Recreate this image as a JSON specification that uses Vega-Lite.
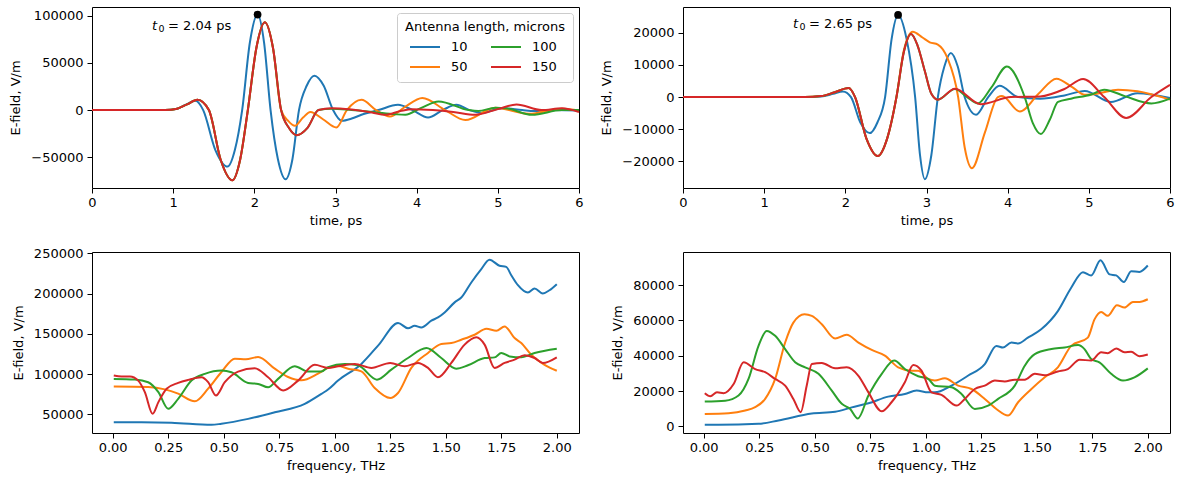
{
  "$schema": "https://vega.github.io/schema/vega-lite/v6.json",
  "padding": {"left": 9, "top": 6, "right": 4, "bottom": 4},
  "config": {
    "font": "DejaVu Sans",
    "view": {"stroke": "black", "strokeWidth": 1},
    "axis": {"domain": false, "grid": false, "tickColor": "black", "tickSize": 5, "tickWidth": 1, "labelColor": "black", "labelFontSize": 13, "labelFont": "DejaVu Sans", "titleFont": "DejaVu Sans", "titleFontSize": 13, "titleFontWeight": "normal", "titleColor": "black", "labelPadding": 3, "titlePadding": 5, "labelFlush": false},
    "axisY": {"labelPadding": 4, "titlePadding": 8},
    "text": {"font": "DejaVu Sans"},
    "legend": {"labelFont": "DejaVu Sans", "titleFont": "DejaVu Sans"}
  },
  "datasets": {
    "tl": [
      {"L":"10","time":0,"E":0},{"L":"10","time":0.9,"E":0},{"L":"10","time":1.05,"E":1500},{"L":"10","time":1.15,"E":5500},{"L":"10","time":1.275,"E":9900},{"L":"10","time":1.37,"E":0},{"L":"10","time":1.52,"E":-42400},{"L":"10","time":1.67,"E":-60000},{"L":"10","time":1.76,"E":-42400},{"L":"10","time":1.85,"E":0},{"L":"10","time":1.945,"E":71700},{"L":"10","time":2.04,"E":101400},{"L":"10","time":2.12,"E":71700},{"L":"10","time":2.2,"E":0},{"L":"10","time":2.29,"E":-51900},{"L":"10","time":2.385,"E":-73400},{"L":"10","time":2.47,"E":-51900},{"L":"10","time":2.55,"E":0},{"L":"10","time":2.645,"E":25800},{"L":"10","time":2.74,"E":36500},{"L":"10","time":2.855,"E":25800},{"L":"10","time":2.97,"E":0},{"L":"10","time":3.075,"E":-11400},{"L":"10","time":3.2,"E":-9000},{"L":"10","time":3.32,"E":-5000},{"L":"10","time":3.53,"E":0},{"L":"10","time":3.77,"E":5600},{"L":"10","time":3.95,"E":0},{"L":"10","time":4.14,"E":-7800},{"L":"10","time":4.32,"E":0},{"L":"10","time":4.49,"E":5600},{"L":"10","time":4.65,"E":0},{"L":"10","time":4.8,"E":-3000},{"L":"10","time":5.05,"E":2000},{"L":"10","time":5.3,"E":0},{"L":"10","time":5.45,"E":-1000},{"L":"10","time":5.7,"E":200},{"L":"10","time":6.0,"E":-500},
      {"L":"50","time":0,"E":0},{"L":"50","time":0.9,"E":0},{"L":"50","time":1.05,"E":1500},{"L":"50","time":1.17,"E":6000},{"L":"50","time":1.3,"E":10900},{"L":"50","time":1.44,"E":0},{"L":"50","time":1.585,"E":-52700},{"L":"50","time":1.73,"E":-74500},{"L":"50","time":1.825,"E":-52700},{"L":"50","time":1.92,"E":0},{"L":"50","time":2.025,"E":65900},{"L":"50","time":2.13,"E":93200},{"L":"50","time":2.23,"E":65900},{"L":"50","time":2.33,"E":0},{"L":"50","time":2.42,"E":-11800},{"L":"50","time":2.5,"E":-16700},{"L":"50","time":2.6,"E":-8000},{"L":"50","time":2.69,"E":-2000},{"L":"50","time":2.85,"E":-10000},{"L":"50","time":3.01,"E":-18500},{"L":"50","time":3.14,"E":0},{"L":"50","time":3.32,"E":11000},{"L":"50","time":3.5,"E":0},{"L":"50","time":3.67,"E":-6800},{"L":"50","time":3.85,"E":3000},{"L":"50","time":4.07,"E":12800},{"L":"50","time":4.35,"E":0},{"L":"50","time":4.6,"E":-10600},{"L":"50","time":4.97,"E":2500},{"L":"50","time":5.38,"E":-4000},{"L":"50","time":5.79,"E":1500},{"L":"50","time":6.0,"E":-500},
      {"L":"100","time":0,"E":0},{"L":"100","time":0.9,"E":0},{"L":"100","time":1.05,"E":1500},{"L":"100","time":1.17,"E":6000},{"L":"100","time":1.3,"E":10900},{"L":"100","time":1.44,"E":0},{"L":"100","time":1.585,"E":-52700},{"L":"100","time":1.73,"E":-74500},{"L":"100","time":1.825,"E":-52700},{"L":"100","time":1.92,"E":0},{"L":"100","time":2.025,"E":65900},{"L":"100","time":2.13,"E":93200},{"L":"100","time":2.23,"E":65900},{"L":"100","time":2.33,"E":0},{"L":"100","time":2.425,"E":-18800},{"L":"100","time":2.52,"E":-26600},{"L":"100","time":2.655,"E":-18800},{"L":"100","time":2.79,"E":0},{"L":"100","time":2.95,"E":1500},{"L":"100","time":3.2,"E":0},{"L":"100","time":3.5,"E":-2500},{"L":"100","time":3.73,"E":-4400},{"L":"100","time":3.86,"E":-5000},{"L":"100","time":4.05,"E":2000},{"L":"100","time":4.27,"E":9200},{"L":"100","time":4.64,"E":0},{"L":"100","time":4.76,"E":-1000},{"L":"100","time":4.97,"E":2500},{"L":"100","time":5.1,"E":2000},{"L":"100","time":5.42,"E":-5000},{"L":"100","time":5.79,"E":0},{"L":"100","time":6.0,"E":0},
      {"L":"150","time":0,"E":0},{"L":"150","time":0.9,"E":0},{"L":"150","time":1.05,"E":1500},{"L":"150","time":1.17,"E":6000},{"L":"150","time":1.3,"E":10900},{"L":"150","time":1.44,"E":0},{"L":"150","time":1.585,"E":-52700},{"L":"150","time":1.73,"E":-74500},{"L":"150","time":1.825,"E":-52700},{"L":"150","time":1.92,"E":0},{"L":"150","time":2.025,"E":65900},{"L":"150","time":2.13,"E":93200},{"L":"150","time":2.23,"E":65900},{"L":"150","time":2.33,"E":0},{"L":"150","time":2.425,"E":-18800},{"L":"150","time":2.52,"E":-26600},{"L":"150","time":2.655,"E":-18800},{"L":"150","time":2.79,"E":0},{"L":"150","time":2.95,"E":2000},{"L":"150","time":3.2,"E":500},{"L":"150","time":3.45,"E":-2500},{"L":"150","time":3.61,"E":-5000},{"L":"150","time":3.8,"E":-1000},{"L":"150","time":3.94,"E":1000},{"L":"150","time":4.2,"E":0},{"L":"150","time":4.45,"E":-2000},{"L":"150","time":4.72,"E":-5000},{"L":"150","time":5.0,"E":1000},{"L":"150","time":5.23,"E":6000},{"L":"150","time":5.54,"E":0},{"L":"150","time":5.79,"E":2000},{"L":"150","time":6.0,"E":-2000}
    ],
    "tr": [
      {"L":"10","time":0,"E":0},{"L":"10","time":1.5,"E":0},{"L":"10","time":1.7,"E":200},{"L":"10","time":1.85,"E":1000},{"L":"10","time":1.97,"E":1750},{"L":"10","time":2.07,"E":0},{"L":"10","time":2.185,"E":-7900},{"L":"10","time":2.3,"E":-11200},{"L":"10","time":2.395,"E":-7900},{"L":"10","time":2.49,"E":0},{"L":"10","time":2.57,"E":18000},{"L":"10","time":2.65,"E":25500},{"L":"10","time":2.755,"E":18000},{"L":"10","time":2.86,"E":0},{"L":"10","time":2.92,"E":-18000},{"L":"10","time":2.98,"E":-25500},{"L":"10","time":3.06,"E":-18000},{"L":"10","time":3.14,"E":0},{"L":"10","time":3.22,"E":9500},{"L":"10","time":3.3,"E":13700},{"L":"10","time":3.385,"E":9500},{"L":"10","time":3.47,"E":0},{"L":"10","time":3.61,"E":-5500},{"L":"10","time":3.76,"E":0},{"L":"10","time":3.9,"E":3500},{"L":"10","time":4.13,"E":0},{"L":"10","time":4.4,"E":-500},{"L":"10","time":4.7,"E":500},{"L":"10","time":4.95,"E":1900},{"L":"10","time":5.27,"E":-1500},{"L":"10","time":5.6,"E":1200},{"L":"10","time":6.0,"E":-300},
      {"L":"50","time":0,"E":0},{"L":"50","time":1.5,"E":0},{"L":"50","time":1.7,"E":300},{"L":"50","time":1.87,"E":1500},{"L":"50","time":2.04,"E":2800},{"L":"50","time":2.12,"E":0},{"L":"50","time":2.26,"E":-12900},{"L":"50","time":2.4,"E":-18300},{"L":"50","time":2.515,"E":-12900},{"L":"50","time":2.63,"E":0},{"L":"50","time":2.72,"E":14400},{"L":"50","time":2.83,"E":20300},{"L":"50","time":2.95,"E":18500},{"L":"50","time":3.04,"E":17000},{"L":"50","time":3.14,"E":16300},{"L":"50","time":3.26,"E":12000},{"L":"50","time":3.39,"E":0},{"L":"50","time":3.47,"E":-15600},{"L":"50","time":3.56,"E":-22100},{"L":"50","time":3.72,"E":-11000},{"L":"50","time":3.88,"E":0},{"L":"50","time":3.93,"E":300},{"L":"50","time":4.15,"E":-4500},{"L":"50","time":4.38,"E":1000},{"L":"50","time":4.6,"E":5700},{"L":"50","time":4.8,"E":3000},{"L":"50","time":4.95,"E":700},{"L":"50","time":5.1,"E":1000},{"L":"50","time":5.36,"E":2300},{"L":"50","time":5.6,"E":1800},{"L":"50","time":6.0,"E":-800},
      {"L":"100","time":0,"E":0},{"L":"100","time":1.5,"E":0},{"L":"100","time":1.7,"E":300},{"L":"100","time":1.87,"E":1500},{"L":"100","time":2.04,"E":2800},{"L":"100","time":2.12,"E":0},{"L":"100","time":2.26,"E":-12900},{"L":"100","time":2.4,"E":-18300},{"L":"100","time":2.515,"E":-12900},{"L":"100","time":2.63,"E":0},{"L":"100","time":2.72,"E":13900},{"L":"100","time":2.81,"E":19600},{"L":"100","time":2.89,"E":16000},{"L":"100","time":2.98,"E":8000},{"L":"100","time":3.06,"E":1000},{"L":"100","time":3.14,"E":-800},{"L":"100","time":3.35,"E":2500},{"L":"100","time":3.5,"E":0},{"L":"100","time":3.63,"E":-2000},{"L":"100","time":3.8,"E":3000},{"L":"100","time":3.99,"E":9500},{"L":"100","time":4.21,"E":0},{"L":"100","time":4.31,"E":-8100},{"L":"100","time":4.41,"E":-11500},{"L":"100","time":4.52,"E":-7000},{"L":"100","time":4.62,"E":-1500},{"L":"100","time":4.78,"E":-500},{"L":"100","time":5.03,"E":800},{"L":"100","time":5.19,"E":2300},{"L":"100","time":5.45,"E":200},{"L":"100","time":5.77,"E":-2000},{"L":"100","time":6.0,"E":-500},
      {"L":"150","time":0,"E":0},{"L":"150","time":1.5,"E":0},{"L":"150","time":1.7,"E":300},{"L":"150","time":1.87,"E":1500},{"L":"150","time":2.04,"E":2800},{"L":"150","time":2.12,"E":0},{"L":"150","time":2.26,"E":-12900},{"L":"150","time":2.4,"E":-18300},{"L":"150","time":2.515,"E":-12900},{"L":"150","time":2.63,"E":0},{"L":"150","time":2.72,"E":13900},{"L":"150","time":2.81,"E":19600},{"L":"150","time":2.89,"E":16000},{"L":"150","time":2.98,"E":8000},{"L":"150","time":3.06,"E":1000},{"L":"150","time":3.14,"E":-800},{"L":"150","time":3.35,"E":2600},{"L":"150","time":3.67,"E":-2200},{"L":"150","time":4.04,"E":0},{"L":"150","time":4.4,"E":200},{"L":"150","time":4.7,"E":2500},{"L":"150","time":4.93,"E":5600},{"L":"150","time":5.19,"E":0},{"L":"150","time":5.46,"E":-6500},{"L":"150","time":5.77,"E":0},{"L":"150","time":6.0,"E":3800}
    ],
    "bl": [
      {"L":"10","freq":0.005,"E":40300},{"L":"10","freq":0.13,"E":40300},{"L":"10","freq":0.265,"E":39800},{"L":"10","freq":0.445,"E":37100},{"L":"10","freq":0.49,"E":38500},{"L":"10","freq":0.61,"E":44500},{"L":"10","freq":0.73,"E":52700},{"L":"10","freq":0.865,"E":63100},{"L":"10","freq":0.94,"E":75500},{"L":"10","freq":0.97,"E":80900},{"L":"10","freq":1.015,"E":92000},{"L":"10","freq":1.12,"E":112700},{"L":"10","freq":1.2,"E":137000},{"L":"10","freq":1.285,"E":163500},{"L":"10","freq":1.33,"E":156800},{"L":"10","freq":1.36,"E":160000},{"L":"10","freq":1.39,"E":158000},{"L":"10","freq":1.435,"E":166300},{"L":"10","freq":1.465,"E":170400},{"L":"10","freq":1.495,"E":176600},{"L":"10","freq":1.54,"E":189000},{"L":"10","freq":1.57,"E":195000},{"L":"10","freq":1.615,"E":213700},{"L":"10","freq":1.66,"E":230300},{"L":"10","freq":1.697,"E":241900},{"L":"10","freq":1.742,"E":234400},{"L":"10","freq":1.772,"E":233000},{"L":"10","freq":1.795,"E":222700},{"L":"10","freq":1.825,"E":210300},{"L":"10","freq":1.87,"E":201200},{"L":"10","freq":1.9,"E":206200},{"L":"10","freq":1.937,"E":200000},{"L":"10","freq":1.967,"E":204100},{"L":"10","freq":2.0,"E":211600},
      {"L":"50","freq":0.005,"E":84600},{"L":"50","freq":0.16,"E":84000},{"L":"50","freq":0.235,"E":81100},{"L":"50","freq":0.295,"E":75800},{"L":"50","freq":0.37,"E":66300},{"L":"50","freq":0.43,"E":82000},{"L":"50","freq":0.49,"E":102700},{"L":"50","freq":0.55,"E":119200},{"L":"50","freq":0.6,"E":118400},{"L":"50","freq":0.655,"E":121300},{"L":"50","freq":0.73,"E":106800},{"L":"50","freq":0.79,"E":96500},{"L":"50","freq":0.85,"E":92400},{"L":"50","freq":0.925,"E":100700},{"L":"50","freq":0.97,"E":107700},{"L":"50","freq":1.015,"E":110000},{"L":"50","freq":1.06,"E":106800},{"L":"50","freq":1.12,"E":103500},{"L":"50","freq":1.18,"E":82800},{"L":"50","freq":1.25,"E":70400},{"L":"50","freq":1.285,"E":76600},{"L":"50","freq":1.345,"E":107700},{"L":"50","freq":1.42,"E":126300},{"L":"50","freq":1.48,"E":137400},{"L":"50","freq":1.525,"E":138500},{"L":"50","freq":1.57,"E":142700},{"L":"50","freq":1.63,"E":148900},{"L":"50","freq":1.683,"E":156300},{"L":"50","freq":1.728,"E":153800},{"L":"50","freq":1.765,"E":159200},{"L":"50","freq":1.81,"E":144700},{"L":"50","freq":1.84,"E":138500},{"L":"50","freq":1.885,"E":124000},{"L":"50","freq":1.945,"E":111600},{"L":"50","freq":2.0,"E":104200},
      {"L":"100","freq":0.005,"E":94100},{"L":"100","freq":0.1,"E":93300},{"L":"100","freq":0.16,"E":90000},{"L":"100","freq":0.206,"E":77700},{"L":"100","freq":0.25,"E":57000},{"L":"100","freq":0.295,"E":69400},{"L":"100","freq":0.355,"E":92000},{"L":"100","freq":0.415,"E":100300},{"L":"100","freq":0.49,"E":104400},{"L":"100","freq":0.535,"E":102300},{"L":"100","freq":0.61,"E":89100},{"L":"100","freq":0.655,"E":87900},{"L":"100","freq":0.7,"E":83700},{"L":"100","freq":0.745,"E":94100},{"L":"100","freq":0.82,"E":109800},{"L":"100","freq":0.88,"E":103200},{"L":"100","freq":0.94,"E":103200},{"L":"100","freq":0.97,"E":108600},{"L":"100","freq":1.045,"E":112700},{"L":"100","freq":1.105,"E":111000},{"L":"100","freq":1.19,"E":93200},{"L":"100","freq":1.255,"E":105600},{"L":"100","freq":1.33,"E":120000},{"L":"100","freq":1.413,"E":132400},{"L":"100","freq":1.48,"E":120000},{"L":"100","freq":1.547,"E":106800},{"L":"100","freq":1.6,"E":111000},{"L":"100","freq":1.675,"E":120000},{"L":"100","freq":1.72,"E":120800},{"L":"100","freq":1.75,"E":126200},{"L":"100","freq":1.788,"E":122000},{"L":"100","freq":1.84,"E":120900},{"L":"100","freq":1.9,"E":126200},{"L":"100","freq":2.0,"E":131500},
      {"L":"150","freq":0.005,"E":98200},{"L":"150","freq":0.04,"E":97000},{"L":"150","freq":0.078,"E":97000},{"L":"150","freq":0.115,"E":92000},{"L":"150","freq":0.145,"E":77700},{"L":"150","freq":0.18,"E":50800},{"L":"150","freq":0.206,"E":65300},{"L":"150","freq":0.243,"E":81800},{"L":"150","freq":0.295,"E":89100},{"L":"150","freq":0.34,"E":92900},{"L":"150","freq":0.4,"E":96200},{"L":"150","freq":0.43,"E":90000},{"L":"150","freq":0.465,"E":73500},{"L":"150","freq":0.505,"E":90000},{"L":"150","freq":0.565,"E":103200},{"L":"150","freq":0.64,"E":107300},{"L":"150","freq":0.7,"E":96200},{"L":"150","freq":0.768,"E":79800},{"L":"150","freq":0.835,"E":92000},{"L":"150","freq":0.91,"E":111500},{"L":"150","freq":0.97,"E":107700},{"L":"150","freq":1.015,"E":109800},{"L":"150","freq":1.09,"E":112700},{"L":"150","freq":1.165,"E":107700},{"L":"150","freq":1.25,"E":113900},{"L":"150","freq":1.315,"E":109800},{"L":"150","freq":1.375,"E":113900},{"L":"150","freq":1.42,"E":107700},{"L":"150","freq":1.465,"E":96100},{"L":"150","freq":1.525,"E":113900},{"L":"150","freq":1.585,"E":136600},{"L":"150","freq":1.638,"E":145700},{"L":"150","freq":1.675,"E":136600},{"L":"150","freq":1.72,"E":107700},{"L":"150","freq":1.765,"E":113900},{"L":"150","freq":1.81,"E":118000},{"L":"150","freq":1.855,"E":123400},{"L":"150","freq":1.9,"E":120000},{"L":"150","freq":1.937,"E":113900},{"L":"150","freq":2.0,"E":120900}
    ],
    "br": [
      {"L":"10","freq":0.005,"E":960},{"L":"10","freq":0.067,"E":960},{"L":"10","freq":0.247,"E":1500},{"L":"10","freq":0.337,"E":3400},{"L":"10","freq":0.487,"E":7300},{"L":"10","freq":0.592,"E":8300},{"L":"10","freq":0.667,"E":10800},{"L":"10","freq":0.742,"E":13100},{"L":"10","freq":0.831,"E":16900},{"L":"10","freq":0.906,"E":18400},{"L":"10","freq":0.959,"E":20300},{"L":"10","freq":1.011,"E":19300},{"L":"10","freq":1.041,"E":19300},{"L":"10","freq":1.116,"E":23100},{"L":"10","freq":1.19,"E":28700},{"L":"10","freq":1.266,"E":35300},{"L":"10","freq":1.318,"E":45600},{"L":"10","freq":1.348,"E":44700},{"L":"10","freq":1.386,"E":47500},{"L":"10","freq":1.416,"E":47000},{"L":"10","freq":1.46,"E":50300},{"L":"10","freq":1.52,"E":55000},{"L":"10","freq":1.595,"E":65300},{"L":"10","freq":1.655,"E":78500},{"L":"10","freq":1.708,"E":87300},{"L":"10","freq":1.745,"E":85400},{"L":"10","freq":1.787,"E":94100},{"L":"10","freq":1.828,"E":86100},{"L":"10","freq":1.858,"E":85500},{"L":"10","freq":1.892,"E":81700},{"L":"10","freq":1.925,"E":87900},{"L":"10","freq":1.962,"E":87500},{"L":"10","freq":2.0,"E":91100},
      {"L":"50","freq":0.005,"E":7100},{"L":"50","freq":0.112,"E":7500},{"L":"50","freq":0.187,"E":9000},{"L":"50","freq":0.232,"E":10900},{"L":"50","freq":0.277,"E":15600},{"L":"50","freq":0.322,"E":26900},{"L":"50","freq":0.367,"E":47500},{"L":"50","freq":0.404,"E":58800},{"L":"50","freq":0.454,"E":63500},{"L":"50","freq":0.487,"E":62600},{"L":"50","freq":0.532,"E":57900},{"L":"50","freq":0.592,"E":49800},{"L":"50","freq":0.644,"E":51900},{"L":"50","freq":0.697,"E":47500},{"L":"50","freq":0.757,"E":43300},{"L":"50","freq":0.816,"E":40100},{"L":"50","freq":0.876,"E":33500},{"L":"50","freq":0.936,"E":31600},{"L":"50","freq":0.966,"E":31600},{"L":"50","freq":1.011,"E":26900},{"L":"50","freq":1.041,"E":26000},{"L":"50","freq":1.086,"E":27300},{"L":"50","freq":1.146,"E":23100},{"L":"50","freq":1.206,"E":21200},{"L":"50","freq":1.266,"E":15600},{"L":"50","freq":1.318,"E":9900},{"L":"50","freq":1.371,"E":6200},{"L":"50","freq":1.416,"E":13700},{"L":"50","freq":1.476,"E":21200},{"L":"50","freq":1.536,"E":27800},{"L":"50","freq":1.595,"E":33500},{"L":"50","freq":1.655,"E":45600},{"L":"50","freq":1.73,"E":50300},{"L":"50","freq":1.76,"E":60600},{"L":"50","freq":1.79,"E":64800},{"L":"50","freq":1.82,"E":62600},{"L":"50","freq":1.861,"E":68600},{"L":"50","freq":1.895,"E":67300},{"L":"50","freq":1.933,"E":70500},{"L":"50","freq":1.962,"E":70500},{"L":"50","freq":2.0,"E":72000},
      {"L":"100","freq":0.005,"E":14100},{"L":"100","freq":0.097,"E":14600},{"L":"100","freq":0.157,"E":17500},{"L":"100","freq":0.202,"E":26900},{"L":"100","freq":0.247,"E":45600},{"L":"100","freq":0.284,"E":54100},{"L":"100","freq":0.322,"E":51300},{"L":"100","freq":0.367,"E":43800},{"L":"100","freq":0.412,"E":36300},{"L":"100","freq":0.457,"E":33500},{"L":"100","freq":0.517,"E":29800},{"L":"100","freq":0.577,"E":20300},{"L":"100","freq":0.622,"E":12800},{"L":"100","freq":0.659,"E":10000},{"L":"100","freq":0.694,"E":4500},{"L":"100","freq":0.742,"E":17500},{"L":"100","freq":0.802,"E":29800},{"L":"100","freq":0.858,"E":37300},{"L":"100","freq":0.906,"E":32500},{"L":"100","freq":0.966,"E":28400},{"L":"100","freq":1.011,"E":26900},{"L":"100","freq":1.041,"E":23100},{"L":"100","freq":1.116,"E":22200},{"L":"100","freq":1.161,"E":18400},{"L":"100","freq":1.221,"E":9900},{"L":"100","freq":1.281,"E":11800},{"L":"100","freq":1.326,"E":15600},{"L":"100","freq":1.401,"E":23100},{"L":"100","freq":1.446,"E":34400},{"L":"100","freq":1.491,"E":40900},{"L":"100","freq":1.566,"E":43800},{"L":"100","freq":1.626,"E":44700},{"L":"100","freq":1.686,"E":46100},{"L":"100","freq":1.715,"E":43800},{"L":"100","freq":1.745,"E":38200},{"L":"100","freq":1.782,"E":36300},{"L":"100","freq":1.835,"E":29800},{"L":"100","freq":1.888,"E":26000},{"L":"100","freq":1.94,"E":27800},{"L":"100","freq":2.0,"E":32900},
      {"L":"150","freq":0.005,"E":18800},{"L":"150","freq":0.03,"E":17100},{"L":"150","freq":0.06,"E":19300},{"L":"150","freq":0.09,"E":18800},{"L":"150","freq":0.135,"E":24000},{"L":"150","freq":0.18,"E":36300},{"L":"150","freq":0.232,"E":32500},{"L":"150","freq":0.277,"E":30700},{"L":"150","freq":0.322,"E":26900},{"L":"150","freq":0.367,"E":23100},{"L":"150","freq":0.404,"E":15600},{"L":"150","freq":0.437,"E":8100},{"L":"150","freq":0.464,"E":23100},{"L":"150","freq":0.487,"E":35300},{"L":"150","freq":0.532,"E":35900},{"L":"150","freq":0.592,"E":32900},{"L":"150","freq":0.644,"E":33500},{"L":"150","freq":0.697,"E":28700},{"L":"150","freq":0.742,"E":19300},{"L":"150","freq":0.802,"E":8600},{"L":"150","freq":0.846,"E":13700},{"L":"150","freq":0.906,"E":25000},{"L":"150","freq":0.944,"E":34800},{"L":"150","freq":0.981,"E":31600},{"L":"150","freq":1.026,"E":19300},{"L":"150","freq":1.071,"E":17900},{"L":"150","freq":1.139,"E":11800},{"L":"150","freq":1.176,"E":15600},{"L":"150","freq":1.221,"E":21200},{"L":"150","freq":1.266,"E":23100},{"L":"150","freq":1.311,"E":26000},{"L":"150","freq":1.356,"E":25500},{"L":"150","freq":1.401,"E":26500},{"L":"150","freq":1.446,"E":26500},{"L":"150","freq":1.491,"E":29800},{"L":"150","freq":1.536,"E":29000},{"L":"150","freq":1.595,"E":31100},{"L":"150","freq":1.64,"E":32500},{"L":"150","freq":1.693,"E":37800},{"L":"150","freq":1.745,"E":37300},{"L":"150","freq":1.79,"E":42000},{"L":"150","freq":1.82,"E":41500},{"L":"150","freq":1.858,"E":44100},{"L":"150","freq":1.895,"E":42000},{"L":"150","freq":1.925,"E":42300},{"L":"150","freq":1.962,"E":39800},{"L":"150","freq":2.0,"E":40700}
    ],
    "tl_peak": [{"time": 2.04, "E": 101400}],
    "tr_peak": [{"time": 2.65, "E": 25500}],
    "tl_note": [{"time": 0.74, "E": 89700, "a": "t", "s": "0", "b": "= 2.04 ps"}],
    "tr_note": [{"time": 1.355, "E": 22700, "a": "t", "s": "0", "b": "= 2.65 ps"}]
  },
  "columns": 2,
  "spacing": {"row": 64, "column": 104},
  "bounds": "flush",
  "resolve": {"scale": {"color": "independent"}, "legend": {"color": "independent"}},
  "concat": [
    {
      "width": 487, "height": 181,
      "layer": [
        {
          "data": {"name": "tl"},
          "mark": {"type": "line", "interpolate": "monotone", "strokeWidth": 2},
          "encoding": {
            "x": {"field": "time", "type": "quantitative", "scale": {"domain": [0, 6], "nice": false, "zero": false}, "axis": {"title": "time, ps", "values": [0, 1, 2, 3, 4, 5, 6], "format": "d"}},
            "y": {"field": "E", "type": "quantitative", "scale": {"domain": [-82700, 109400], "nice": false, "zero": false}, "axis": {"title": "E-field, V/m", "values": [-50000, 0, 50000, 100000], "format": "d"}},
            "color": {"field": "L", "type": "nominal", "sort": null,
              "scale": {"domain": ["10", "50", "100", "150"], "range": ["#1f77b4", "#ff7f0e", "#2ca02c", "#d62728"]},
              "legend": {"orient": "top-right", "offset": 6, "columns": 2, "title": "Antenna length, microns", "symbolType": "M-1.5,0H1.5", "symbolSize": 400, "symbolStrokeWidth": 2, "labelFontSize": 13, "titleFontSize": 13, "titleFontWeight": "normal", "labelColor": "black", "titleColor": "black", "fillColor": "rgba(255,255,255,0.8)", "strokeColor": "#cccccc", "cornerRadius": 3, "padding": 8, "columnPadding": 19, "rowPadding": 2, "labelOffset": 15, "titleAnchor": "middle", "titlePadding": 2}
            }
          }
        },
        {
          "data": {"name": "tl_peak"},
          "mark": {"type": "point", "filled": true, "color": "black", "size": 60, "opacity": 1},
          "encoding": {"x": {"field": "time", "type": "quantitative"}, "y": {"field": "E", "type": "quantitative"}}
        },
        {
          "data": {"name": "tl_note"},
          "mark": {"type": "text", "fontStyle": "italic", "align": "left", "baseline": "middle", "fontSize": 13, "color": "black"},
          "encoding": {"x": {"field": "time", "type": "quantitative"}, "y": {"field": "E", "type": "quantitative"}, "text": {"field": "a"}}
        },
        {
          "data": {"name": "tl_note"},
          "mark": {"type": "text", "align": "left", "baseline": "middle", "fontSize": 9.5, "dx": 6.5, "dy": 3, "color": "black"},
          "encoding": {"x": {"field": "time", "type": "quantitative"}, "y": {"field": "E", "type": "quantitative"}, "text": {"field": "s"}}
        },
        {
          "data": {"name": "tl_note"},
          "mark": {"type": "text", "align": "left", "baseline": "middle", "fontSize": 13, "dx": 16, "color": "black"},
          "encoding": {"x": {"field": "time", "type": "quantitative"}, "y": {"field": "E", "type": "quantitative"}, "text": {"field": "b"}}
        }
      ]
    },
    {
      "width": 487, "height": 181,
      "layer": [
        {
          "data": {"name": "tr"},
          "mark": {"type": "line", "interpolate": "monotone", "strokeWidth": 2},
          "encoding": {
            "x": {"field": "time", "type": "quantitative", "scale": {"domain": [0, 6], "nice": false, "zero": false}, "axis": {"title": "time, ps", "values": [0, 1, 2, 3, 4, 5, 6], "format": "d"}},
            "y": {"field": "E", "type": "quantitative", "scale": {"domain": [-28250, 27970], "nice": false, "zero": false}, "axis": {"title": "E-field, V/m", "values": [-20000, -10000, 0, 10000, 20000], "format": "d"}},
            "color": {"field": "L", "type": "nominal", "scale": {"domain": ["10", "50", "100", "150"], "range": ["#1f77b4", "#ff7f0e", "#2ca02c", "#d62728"]}, "legend": null}
          }
        },
        {
          "data": {"name": "tr_peak"},
          "mark": {"type": "point", "filled": true, "color": "black", "size": 60, "opacity": 1},
          "encoding": {"x": {"field": "time", "type": "quantitative"}, "y": {"field": "E", "type": "quantitative"}}
        },
        {
          "data": {"name": "tr_note"},
          "mark": {"type": "text", "fontStyle": "italic", "align": "left", "baseline": "middle", "fontSize": 13, "color": "black"},
          "encoding": {"x": {"field": "time", "type": "quantitative"}, "y": {"field": "E", "type": "quantitative"}, "text": {"field": "a"}}
        },
        {
          "data": {"name": "tr_note"},
          "mark": {"type": "text", "align": "left", "baseline": "middle", "fontSize": 9.5, "dx": 6.5, "dy": 3, "color": "black"},
          "encoding": {"x": {"field": "time", "type": "quantitative"}, "y": {"field": "E", "type": "quantitative"}, "text": {"field": "s"}}
        },
        {
          "data": {"name": "tr_note"},
          "mark": {"type": "text", "align": "left", "baseline": "middle", "fontSize": 13, "dx": 16, "color": "black"},
          "encoding": {"x": {"field": "time", "type": "quantitative"}, "y": {"field": "E", "type": "quantitative"}, "text": {"field": "b"}}
        }
      ]
    },
    {
      "width": 487, "height": 181,
      "data": {"name": "bl"},
      "mark": {"type": "line", "interpolate": "monotone", "strokeWidth": 2},
      "encoding": {
        "x": {"field": "freq", "type": "quantitative", "scale": {"domain": [-0.093, 2.1], "nice": false, "zero": false}, "axis": {"title": "frequency, THz", "values": [0, 0.25, 0.5, 0.75, 1, 1.25, 1.5, 1.75, 2], "format": ".2f"}},
        "y": {"field": "E", "type": "quantitative", "scale": {"domain": [27000, 251500], "nice": false, "zero": false}, "axis": {"title": "E-field, V/m", "values": [50000, 100000, 150000, 200000, 250000], "format": "d"}},
        "color": {"field": "L", "type": "nominal", "scale": {"domain": ["10", "50", "100", "150"], "range": ["#1f77b4", "#ff7f0e", "#2ca02c", "#d62728"]}, "legend": null}
      }
    },
    {
      "width": 487, "height": 181,
      "data": {"name": "br"},
      "mark": {"type": "line", "interpolate": "monotone", "strokeWidth": 2},
      "encoding": {
        "x": {"field": "freq", "type": "quantitative", "scale": {"domain": [-0.093, 2.1], "nice": false, "zero": false}, "axis": {"title": "frequency, THz", "values": [0, 0.25, 0.5, 0.75, 1, 1.25, 1.5, 1.75, 2], "format": ".2f"}},
        "y": {"field": "E", "type": "quantitative", "scale": {"domain": [-3700, 98750], "nice": false, "zero": false}, "axis": {"title": "E-field, V/m", "values": [0, 20000, 40000, 60000, 80000], "format": "d"}},
        "color": {"field": "L", "type": "nominal", "scale": {"domain": ["10", "50", "100", "150"], "range": ["#1f77b4", "#ff7f0e", "#2ca02c", "#d62728"]}, "legend": null}
      }
    }
  ]
}
